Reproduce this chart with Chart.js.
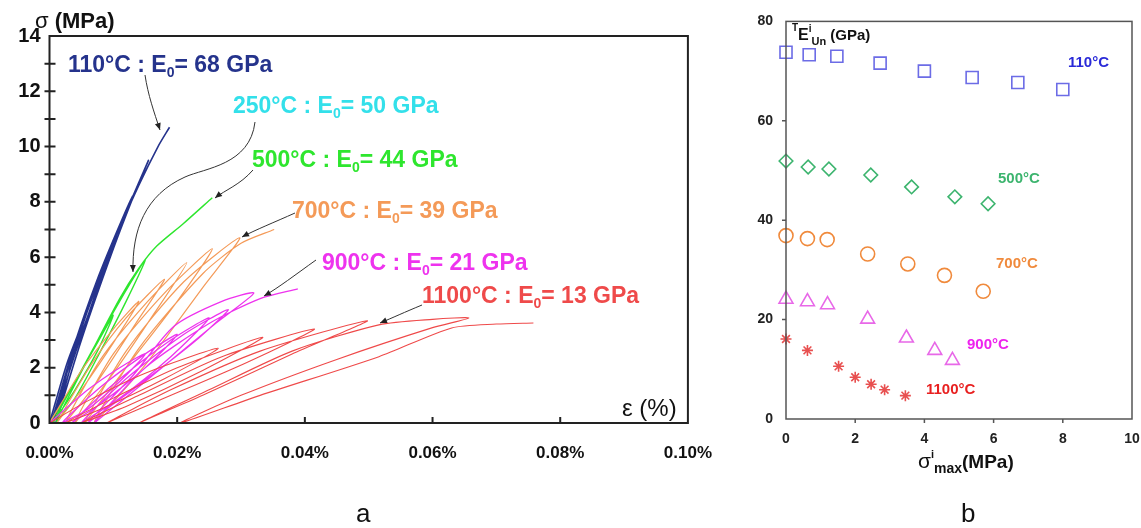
<!DOCTYPE html>
<html>
<head>
<meta charset="utf-8">
<script src="https://cdn.jsdelivr.net/npm/chart.js@4.4.1/dist/chart.umd.min.js"></script>
<style>
  body { margin: 0; background: #fff; width: 1141px; height: 528px; overflow: hidden; position: relative; }
  canvas { position: absolute; top: 0; }
  #chartA { left: 0; }
  #chartB { left: 720px; }
  .panel { position: absolute; top: 498px; font: 26px Arial, 'Liberation Sans', sans-serif; color: #111; }
</style>
</head>
<body>
<canvas id="chartA" width="732" height="528"></canvas>
<canvas id="chartB" width="432" height="528"></canvas>
<div class="panel" style="left:356px">a</div>
<div class="panel" style="left:961px">b</div>
<script>
// --- (a) courbes contrainte / deformation, cycles charge-decharge ---
const strain110 = [0, 0.0028, 0.0060, 0.0085, 0.0062, 0.0030, 0.0003, 0.0040, 0.0075, 0.0105, 0.0130, 0.0110, 0.0075, 0.0040, 0.0006, 0.0045, 0.0090, 0.0125, 0.0155, 0.0135, 0.0100, 0.0050, 0.0010, 0.0050, 0.0100, 0.0140, 0.0170, 0.0188];
const stress110 = [0, 2.2, 4.1, 5.6, 4.0, 2.0, 0, 2.9, 5.2, 6.9, 8.2, 7.1, 4.8, 2.5, 0, 3.2, 6.0, 7.9, 9.5, 8.4, 6.3, 3.0, 0, 3.4, 6.5, 8.6, 10.0, 10.7];

const strain500 = [0, 0.0035, 0.0070, 0.0100, 0.0075, 0.0040, 0.0005, 0.0045, 0.0090, 0.0125, 0.0150, 0.0120, 0.0080, 0.0040, 0.0010, 0.0060, 0.0110, 0.0140, 0.0168, 0.0209, 0.0255];
const stress500 = [0, 1.3, 2.7, 3.9, 2.6, 1.2, 0, 1.7, 3.6, 5.0, 5.9, 4.4, 2.6, 0.9, 0, 2.3, 4.5, 5.6, 6.4, 7.2, 8.15];

const strain700 = [0, 0.0050, 0.0100, 0.0140, 0.0100, 0.0050, 0.0012, 0.0065, 0.0120, 0.0180, 0.0135, 0.0075, 0.0025, 0.0080, 0.0150, 0.0215, 0.0165, 0.0100, 0.0040, 0.0100, 0.0180, 0.0255, 0.0200, 0.0120, 0.0055, 0.0120, 0.0210, 0.0298, 0.0240, 0.0150, 0.0070, 0.0140, 0.0240, 0.0300, 0.0352];
const stress700 = [0, 1.9, 3.4, 4.4, 2.9, 1.2, 0, 2.1, 3.8, 5.2, 3.6, 1.5, 0, 2.3, 4.3, 5.8, 4.0, 1.8, 0, 2.5, 4.7, 6.3, 4.4, 2.0, 0, 2.6, 5.1, 6.7, 4.9, 2.1, 0, 2.7, 5.4, 6.5, 7.0];

const strain900 = [0, 0.0060, 0.0110, 0.0150, 0.0110, 0.0060, 0.0020, 0.0080, 0.0150, 0.0200, 0.0150, 0.0080, 0.0035, 0.0100, 0.0190, 0.0250, 0.0190, 0.0110, 0.0050, 0.0120, 0.0210, 0.0280, 0.0225, 0.0130, 0.0060, 0.0130, 0.0195, 0.0270, 0.0320, 0.0260, 0.0150, 0.0070, 0.0150, 0.0250, 0.0330, 0.0389];
const stress900 = [0, 1.2, 2.0, 2.5, 1.5, 0.5, 0, 1.3, 2.5, 3.2, 2.0, 0.7, 0, 1.4, 3.0, 3.8, 2.4, 0.9, 0, 1.6, 3.2, 4.1, 2.9, 1.2, 0, 1.7, 3.5, 4.4, 4.7, 3.6, 1.5, 0, 2.0, 3.6, 4.5, 4.85];

const strain1100 = [0, 0.0060, 0.0150, 0.0264, 0.0180, 0.0080, 0.0025, 0.0100, 0.0200, 0.0334, 0.0240, 0.0120, 0.0050, 0.0140, 0.0270, 0.0415, 0.0310, 0.0170, 0.0090, 0.0190, 0.0330, 0.0498, 0.0380, 0.0240, 0.0140, 0.0250, 0.0380, 0.0516, 0.0600, 0.0657, 0.0600, 0.0450, 0.0300, 0.0205, 0.0330, 0.0516, 0.0630, 0.0700, 0.0758];
const stress1100 = [0, 0.8, 1.8, 2.7, 1.6, 0.5, 0, 0.9, 2.0, 3.1, 1.9, 0.6, 0, 1.0, 2.4, 3.4, 2.2, 0.8, 0, 1.2, 2.6, 3.7, 2.5, 1.0, 0, 1.2, 2.6, 3.55, 3.75, 3.8, 3.45, 2.3, 1.0, 0, 1.0, 2.4, 3.44, 3.58, 3.62];

const tempsA = ['110°C', '250°C', '500°C', '700°C', '900°C', '1100°C'];
const modulusA = [68, 50, 44, 39, 21, 13];
const strainTicks = [0, 0.02, 0.04, 0.06, 0.08, 0.10];

// --- (b) module secant de decharge vs contrainte max ---
const sigma110 = [0, 0.67, 1.47, 2.72, 4.0, 5.38, 6.7, 8.0];
const eUn110 = [73.8, 73.3, 73.0, 71.6, 70.0, 68.7, 67.7, 66.3];
const sigma500 = [0, 0.64, 1.24, 2.45, 3.63, 4.88, 5.84];
const eUn500 = [51.9, 50.7, 50.3, 49.1, 46.7, 44.7, 43.3];
const sigma700 = [0, 0.62, 1.19, 2.36, 3.52, 4.58, 5.70];
const eUn700 = [36.9, 36.3, 36.1, 33.2, 31.2, 28.9, 25.7];
const sigma900 = [0, 0.62, 1.2, 2.36, 3.48, 4.3, 4.81];
const eUn900 = [24.1, 23.6, 23.0, 20.1, 16.3, 13.8, 11.8];
const sigma1100 = [0, 0.62, 1.52, 2.0, 2.46, 2.85, 3.45];
const eUn1100 = [16.1, 13.8, 10.6, 8.4, 7.0, 5.9, 4.7];
const tempsB = ['110°C', '500°C', '700°C', '900°C', '1100°C'];

const FONT = "Arial, 'Liberation Sans', sans-serif";
const toPts = (xs, ys) => xs.map((v, i) => ({ x: v, y: ys[i] }));

function richText(ctx, x, y, parts) {
    let cx = x;
    parts.forEach(p => {
        ctx.font = p.font;
        ctx.fillStyle = p.color || '#111';
        ctx.fillText(p.t, cx, y + (p.dy || 0));
        cx += ctx.measureText(p.t).width;
    });
}

function arrow(ctx, pts) {
    // pts: depart puis segments de bezier (c1, c2, fin)
    ctx.beginPath();
    ctx.moveTo(pts[0][0], pts[0][1]);
    for (let i = 1; i < pts.length; i += 3) {
        ctx.bezierCurveTo(pts[i][0], pts[i][1], pts[i + 1][0], pts[i + 1][1], pts[i + 2][0], pts[i + 2][1]);
    }
    ctx.stroke();
    const e = pts[pts.length - 1], c = pts[pts.length - 2];
    const ang = Math.atan2(e[1] - c[1], e[0] - c[0]);
    ctx.beginPath();
    ctx.moveTo(e[0], e[1]);
    ctx.lineTo(e[0] - 7 * Math.cos(ang) + 3 * Math.sin(ang), e[1] - 7 * Math.sin(ang) - 3 * Math.cos(ang));
    ctx.lineTo(e[0] - 7 * Math.cos(ang) - 3 * Math.sin(ang), e[1] - 7 * Math.sin(ang) + 3 * Math.cos(ang));
    ctx.closePath();
    ctx.fill();
}

// Panneau a
const colorsA = ['#25338c', '#33e0ea', '#2ee62e', '#f49a58', '#ee33ee', '#ef4a4a'];
const labelPosA = [[68, 72], [233, 113], [252, 167], [292, 218], [322, 270], [422, 303]];
const arrowsA = [
    [[145, 75], [148, 95], [154, 112], [160, 130]],
    [[255, 122], [250, 165], [205, 168], [185, 177], [145, 195], [132, 230], [133, 272]],
    [[253, 170], [240, 185], [225, 190], [215, 198]],
    [[295, 213], [275, 222], [255, 230], [242, 237]],
    [[316, 260], [295, 275], [278, 288], [264, 296]],
    [[422, 305], [405, 312], [392, 318], [380, 323]]
];

const decorA = {
    id: 'decorA',
    afterDraw(chart) {
        const { ctx, chartArea: a, scales: { x, y } } = chart;
        ctx.save();
        ctx.strokeStyle = '#222';
        ctx.lineWidth = 2;
        ctx.strokeRect(a.left, a.top, a.right - a.left, a.bottom - a.top);
        ctx.beginPath();
        for (let v = 1; v < 14; v++) {
            const py = y.getPixelForValue(v);
            ctx.moveTo(a.left - 5, py);
            ctx.lineTo(a.left + 6, py);
        }
        strainTicks.slice(1, -1).forEach(v => {
            const px = x.getPixelForValue(v);
            ctx.moveTo(px, a.bottom);
            ctx.lineTo(px, a.bottom - 6);
        });
        ctx.stroke();

        // titres des axes
        ctx.textBaseline = 'alphabetic';
        richText(ctx, 35, 28, [
            { t: 'σ ', font: `22px ${FONT}` },
            { t: '(MPa)', font: `bold 22px ${FONT}` }
        ]);
        richText(ctx, 622, 416, [{ t: 'ε (%)', font: `24px ${FONT}` }]);

        // etiquettes + fleches
        ctx.strokeStyle = '#333';
        ctx.lineWidth = 1;
        arrowsA.forEach(p => { ctx.fillStyle = '#222'; arrow(ctx, p); });
        tempsA.forEach((t, i) => {
            const [lx, ly] = labelPosA[i];
            const col = colorsA[i];
            richText(ctx, lx, ly, [
                { t: t + ' : E', font: `bold 23px ${FONT}`, color: col },
                { t: '0', font: `bold 14px ${FONT}`, color: col, dy: 5 },
                { t: '= ' + modulusA[i] + ' GPa', font: `bold 23px ${FONT}`, color: col }
            ]);
        });
        ctx.restore();
    }
};

const lineSet = (label, xs, ys, color, w) => ({
    label, data: toPts(xs, ys), showLine: true, borderColor: color,
    borderWidth: w, pointRadius: 0, tension: 0.25, fill: false
});

new Chart(document.getElementById('chartA'), {
    type: 'scatter',
    data: {
        datasets: [
            lineSet('1100°C', strain1100, stress1100, colorsA[5], 1.1),
            lineSet('900°C', strain900, stress900, colorsA[4], 1.3),
            lineSet('700°C', strain700, stress700, colorsA[3], 1.2),
            lineSet('500°C', strain500, stress500, colorsA[2], 1.4),
            lineSet('110°C', strain110, stress110, colorsA[0], 1.6)
        ]
    },
    options: {
        responsive: false,
        animation: false,
        layout: { padding: { left: 0, top: 36, right: 44, bottom: 0 } },
        plugins: { legend: { display: false }, tooltip: { enabled: false } },
        scales: {
            x: {
                type: 'linear', min: 0, max: 0.1,
                afterFit: s => { s.height = 105; },
                afterBuildTicks: s => { s.ticks = strainTicks.map(v => ({ value: v })); },
                grid: { display: false, drawTicks: false },
                border: { display: false },
                ticks: {
                    padding: 20, color: '#111', font: { family: FONT, size: 17, weight: 'bold' },
                    callback: v => v.toFixed(2) + '%'
                }
            },
            y: {
                min: 0, max: 14,
                afterFit: s => { s.width = 49.5; },
                grid: { display: false, drawTicks: false },
                border: { display: false },
                ticks: { stepSize: 2, padding: 9, color: '#111', font: { family: FONT, size: 20, weight: 'bold' } }
            }
        }
    },
    plugins: [decorA]
});

// Panneau b
const colorsB = ['#6c6ce6', '#3cb46e', '#f08a3c', '#e868e8', '#e85050'];
const labelColorsB = ['#2a2ad8', '#3cb46e', '#f08a3c', '#ee22ee', '#e82020'];
const labelPosB = [[1068, 67], [998, 183], [996, 268], [967, 349], [926, 394]];

const decorB = {
    id: 'decorB',
    afterDraw(chart) {
        const { ctx, chartArea: a, scales: { x, y } } = chart;
        const off = 720;
        ctx.save();
        ctx.strokeStyle = '#555';
        ctx.lineWidth = 1.5;
        ctx.strokeRect(a.left, a.top, a.right - a.left, a.bottom - a.top);
        ctx.beginPath();
        for (let v = 20; v < 80; v += 20) {
            const py = y.getPixelForValue(v);
            ctx.moveTo(a.left - 4, py);
            ctx.lineTo(a.left, py);
        }
        for (let v = 2; v < 10; v += 2) {
            const px = x.getPixelForValue(v);
            ctx.moveTo(px, a.bottom);
            ctx.lineTo(px, a.bottom + 4);
        }
        ctx.stroke();

        ctx.textBaseline = 'alphabetic';
        richText(ctx, 792 - off, 31, [{ t: 'T', font: `bold 10px ${FONT}` }]);
        richText(ctx, 798 - off, 40, [
            { t: 'E', font: `bold 16px ${FONT}` },
            { t: 'i', font: `bold 10px ${FONT}`, dy: -8 },
            { t: 'Un', font: `bold 11px ${FONT}`, dy: 5 },
            { t: ' (GPa)', font: `bold 15px ${FONT}` }
        ]);
        richText(ctx, 918 - off, 468, [
            { t: 'σ', font: `21px ${FONT}` },
            { t: 'i', font: `bold 11px ${FONT}`, dy: -10 },
            { t: 'max', font: `bold 14px ${FONT}`, dy: 5 },
            { t: '(MPa)', font: `bold 19px ${FONT}` }
        ]);
        tempsB.forEach((t, i) => {
            richText(ctx, labelPosB[i][0] - off, labelPosB[i][1], [
                { t, font: `bold 15px ${FONT}`, color: labelColorsB[i] }
            ]);
        });
        ctx.restore();
    }
};

const pointSet = (label, xs, ys, color, style, r) => ({
    label, data: toPts(xs, ys), showLine: false, pointStyle: style,
    pointRadius: r, borderColor: color, backgroundColor: 'rgba(0,0,0,0)',
    pointBorderWidth: 1.6, clip: false
});

new Chart(document.getElementById('chartB'), {
    type: 'scatter',
    data: {
        datasets: [
            pointSet('110°C', sigma110, eUn110, colorsB[0], 'rect', 8.5),
            pointSet('500°C', sigma500, eUn500, colorsB[1], 'rectRot', 6.8),
            pointSet('700°C', sigma700, eUn700, colorsB[2], 'circle', 7),
            pointSet('900°C', sigma900, eUn900, colorsB[3], 'triangle', 8),
            pointSet('1100°C', sigma1100, eUn1100, colorsB[4], 'star', 5.5)
        ]
    },
    options: {
        responsive: false,
        animation: false,
        layout: { padding: { left: 0, top: 19, right: 20, bottom: 0 } },
        plugins: { legend: { display: false }, tooltip: { enabled: false } },
        scales: {
            x: {
                type: 'linear', min: 0, max: 10,
                afterFit: s => { s.height = 109; },
                grid: { display: false, drawTicks: false },
                border: { display: false },
                ticks: { stepSize: 2, padding: 12, color: '#222', font: { family: FONT, size: 14, weight: 'bold' } }
            },
            y: {
                min: 0, max: 80,
                afterFit: s => { s.width = 66; },
                grid: { display: false, drawTicks: false },
                border: { display: false },
                ticks: { stepSize: 20, padding: 13, color: '#222', font: { family: FONT, size: 14, weight: 'bold' } }
            }
        }
    },
    plugins: [decorB]
});
</script>
</body>
</html>
